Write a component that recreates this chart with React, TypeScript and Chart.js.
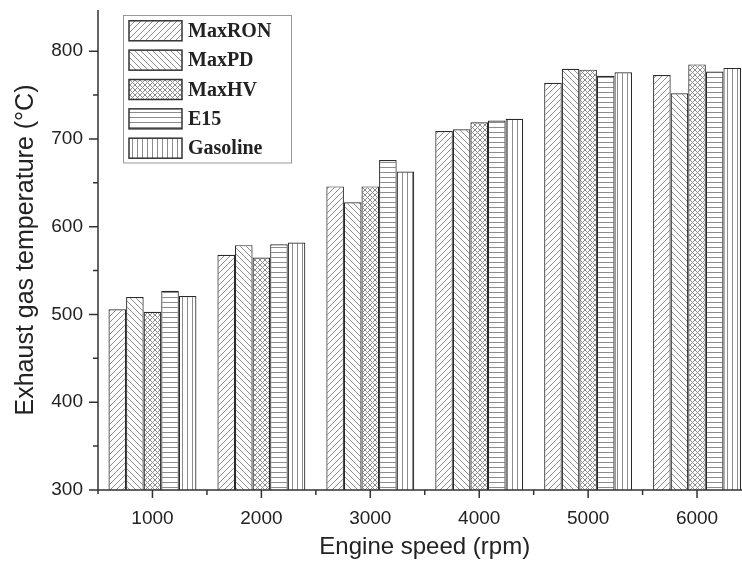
import React, { useEffect, useRef } from "react";
import { Chart, registerables } from "chart.js";

Chart.register(...registerables);

const categories = ["1000", "2000", "3000", "4000", "5000", "6000"];
const seriesNames = ["MaxRON", "MaxPD", "MaxHV", "E15", "Gasoline"];
const maxRON = [506, 568, 646, 709, 764, 773];
const maxPD = [520, 579, 628, 711, 780, 752];
const maxHV = [503, 565, 646, 719, 779, 785];
const e15 = [527, 580, 676, 721, 772, 777];
const gasoline = [521, 582, 663, 723, 776, 781];
const seriesValues = [maxRON, maxPD, maxHV, e15, gasoline];
const patternKinds = ["fwd", "back", "cross", "horiz", "vert"];
const yTickValues = [300, 400, 500, 600, 700, 800];
const yMinorValues = [350, 450, 550, 650, 750];

function makePattern(kind: string): CanvasPattern | string {
  const s = kind === "cross" ? 5 : kind === "horiz" || kind === "vert" ? 5 : 6;
  const c = document.createElement("canvas");
  c.width = s;
  c.height = s;
  const g = c.getContext("2d");
  if (!g) return "#fff";
  g.fillStyle = "#ffffff";
  g.fillRect(0, 0, s, s);
  g.strokeStyle = "#8c8c8c";
  g.fillStyle = "#8c8c8c";
  g.lineWidth = 1;
  const fwd = () => {
    g.beginPath();
    g.moveTo(-1, s + 1);
    g.lineTo(s + 1, -1);
    g.moveTo(-1, 1);
    g.lineTo(1, -1);
    g.moveTo(s - 1, s + 1);
    g.lineTo(s + 1, s - 1);
    g.stroke();
  };
  const back = () => {
    g.beginPath();
    g.moveTo(-1, -1);
    g.lineTo(s + 1, s + 1);
    g.moveTo(s - 1, -1);
    g.lineTo(s + 1, 1);
    g.moveTo(-1, s - 1);
    g.lineTo(1, s + 1);
    g.stroke();
  };
  if (kind === "fwd") fwd();
  else if (kind === "back") back();
  else if (kind === "cross") {
    fwd();
    back();
  } else if (kind === "horiz") {
    g.fillRect(0, 2, s, 1);
  } else if (kind === "vert") {
    g.fillRect(2, 0, 1, s);
  }
  return g.createPattern(c, "repeat") || "#fff";
}

const axisPlugin = {
  id: "customAxes",
  afterDraw(chart: any) {
    const ctx = chart.ctx;
    const { left, right, top, bottom } = chart.chartArea;
    const xs = chart.scales.x;
    const ys = chart.scales.y;
    ctx.save();
    ctx.strokeStyle = "#333";
    ctx.lineWidth = 1.5;
    ctx.beginPath();
    ctx.moveTo(left, top);
    ctx.lineTo(left, bottom + 4);
    ctx.moveTo(left, bottom);
    ctx.lineTo(right, bottom);
    yTickValues.forEach((v) => {
      const y = ys.getPixelForValue(v);
      ctx.moveTo(left - 9, y);
      ctx.lineTo(left, y);
    });
    yMinorValues.forEach((v) => {
      const y = ys.getPixelForValue(v);
      ctx.moveTo(left - 5, y);
      ctx.lineTo(left, y);
    });
    categories.forEach((_, i) => {
      const x = xs.getPixelForValue(i);
      ctx.moveTo(x, bottom);
      ctx.lineTo(x, bottom + 8);
      if (i > 0) {
        const xb = (xs.getPixelForValue(i - 1) + x) / 2;
        ctx.moveTo(xb, bottom);
        ctx.lineTo(xb, bottom + 5);
      }
    });
    const last = xs.getPixelForValue(categories.length - 1);
    const prev = xs.getPixelForValue(categories.length - 2);
    const xe = last + (last - prev) / 2;
    ctx.moveTo(xe, bottom);
    ctx.lineTo(xe, bottom + 5);
    ctx.stroke();
    ctx.restore();
  },
};

const legendPlugin = {
  id: "customLegend",
  afterDraw(chart: any) {
    const ctx = chart.ctx;
    ctx.save();
    ctx.strokeStyle = "#999";
    ctx.lineWidth = 1;
    ctx.fillStyle = "#fff";
    ctx.fillRect(123.5, 15.5, 168, 147.5);
    ctx.strokeRect(123.5, 15.5, 168, 147.5);
    chart.data.datasets.forEach((ds: any, i: number) => {
      const cy = 30.8 + 29.35 * i;
      ctx.fillStyle = ds.backgroundColor;
      ctx.fillRect(129, cy - 10, 53, 20);
      ctx.strokeStyle = "#333";
      ctx.lineWidth = 1.5;
      ctx.strokeRect(129, cy - 10, 53, 20);
      ctx.fillStyle = "#222";
      ctx.font = 'bold 20px "Liberation Serif", "Times New Roman", serif';
      ctx.textAlign = "left";
      ctx.textBaseline = "middle";
      ctx.fillText(ds.label, 188, cy + 1);
    });
    ctx.restore();
  },
};

export default function App() {
  const canvasRef = useRef<HTMLCanvasElement | null>(null);

  useEffect(() => {
    const canvas = canvasRef.current;
    if (!canvas) return;
    const datasets = seriesNames.map((name, i) => ({
      label: name,
      data: seriesValues[i],
      backgroundColor: makePattern(patternKinds[i]) as any,
      borderColor: "#2a2a2a",
      borderWidth: 1.2,
      categoryPercentage: 0.807,
      barPercentage: 1.0,
    }));
    const chart = new Chart(canvas, {
      type: "bar",
      data: { labels: categories, datasets },
      options: {
        responsive: false,
        animation: false,
        devicePixelRatio: 1,
        layout: { padding: { left: 0, top: 10, right: 8.5, bottom: 0 } },
        plugins: {
          legend: { display: false },
          tooltip: { enabled: false },
        },
        scales: {
          x: {
            type: "category",
            offset: true,
            grid: { display: false, drawTicks: false },
            border: { display: false },
            ticks: {
              color: "#222",
              padding: 17,
              maxRotation: 0,
              font: { family: '"Liberation Sans", Arial, sans-serif', size: 19 },
            },
            title: {
              display: true,
              text: "Engine speed (rpm)",
              color: "#222",
              padding: { top: 0, bottom: 4 },
              font: { family: '"Liberation Sans", Arial, sans-serif', size: 24, lineHeight: 1.2 },
            },
            afterFit(scale: any) {
              scale.height = 76;
              scale.paddingLeft = 0;
              scale.paddingRight = 0;
            },
          },
          y: {
            min: 300,
            max: 847,
            grid: { display: false, drawTicks: false },
            border: { display: false },
            ticks: {
              stepSize: 100,
              color: "#222",
              padding: 15,
              font: { family: '"Liberation Sans", Arial, sans-serif', size: 19 },
            },
            afterBuildTicks(scale: any) {
              scale.ticks = yTickValues.map((v) => ({ value: v }));
            },
            title: {
              display: true,
              text: "Exhaust gas temperature (°C)",
              color: "#222",
              padding: { top: 11, bottom: 0 },
              font: { family: '"Liberation Sans", Arial, sans-serif', size: 25, lineHeight: 1.2 },
            },
            afterFit(scale: any) {
              scale.width = 98;
              scale.paddingTop = 0;
              scale.paddingBottom = 0;
            },
          },
        },
      },
      plugins: [axisPlugin, legendPlugin],
    });
    return () => chart.destroy();
  }, []);

  return (
    <div
      style={{
        position: "absolute",
        left: 0,
        top: 0,
        width: 742,
        height: 566,
        overflow: "hidden",
        background: "#fff",
      }}
    >
      <canvas ref={canvasRef} width={760} height={566} style={{ display: "block" }} />
    </div>
  );
}
